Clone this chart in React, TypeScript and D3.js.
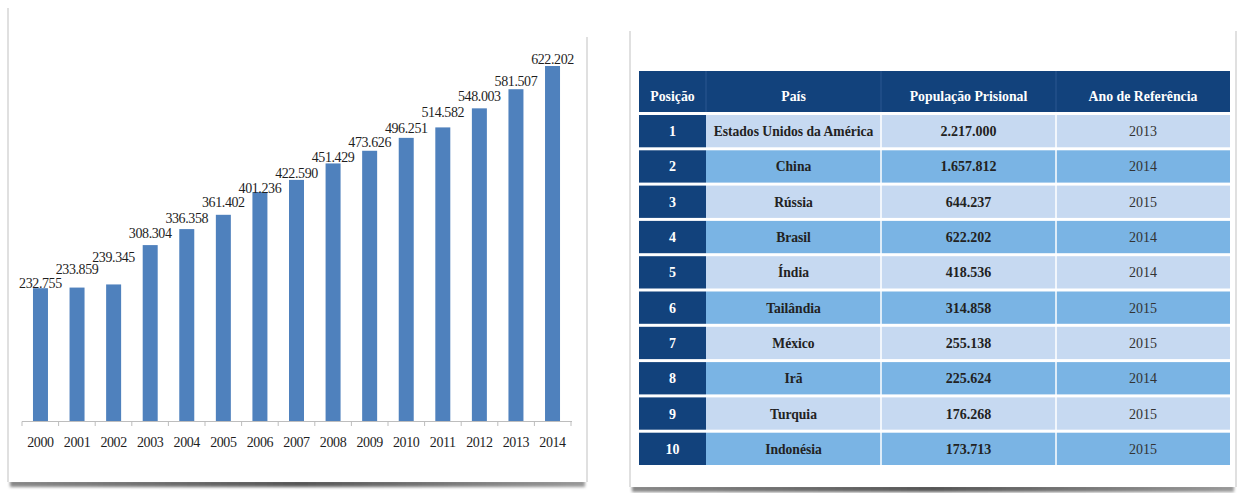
import React from "react";
import * as d3 from "d3";

// ---- Data: left bar chart (population prisional do Brasil) ----
const years = ["2000","2001","2002","2003","2004","2005","2006","2007","2008","2009","2010","2011","2012","2013","2014"];
const prisoners = [232755, 233859, 239345, 308304, 336358, 361402, 401236, 422590, 451429, 473626, 496251, 514582, 548003, 581507, 622202];
// layout only: how far each value label sits above its bar (px), as placed in the source image
const labelLift = [5, 19, 27, 12, 11, 13, 4, 7, 6, 9, 10, 15, 12, 8, 7];

// ---- Data: right table ----
const tableHeaders = ["Posição", "País", "População Prisional", "Ano de Referência"];
const positions = [1, 2, 3, 4, 5, 6, 7, 8, 9, 10];
const countries = ["Estados Unidos da América", "China", "Rússia", "Brasil", "Índia", "Tailândia", "México", "Irã", "Turquia", "Indonésia"];
const populations = [2217000, 1657812, 644237, 622202, 418536, 314858, 255138, 225624, 176268, 173713];
const refYears = [2013, 2014, 2015, 2014, 2014, 2015, 2015, 2014, 2015, 2015];

const ptBR = d3.formatLocale({ decimal: ",", thousands: ".", grouping: [3], currency: ["R$", ""] });
const fmt = ptBR.format(",d");

const FONT = "'Liberation Serif', 'Times New Roman', serif";
const BAR = "#4f81bd";
const NAVY = "#12427c";
const LIGHT = "#c6d9f1";
const MID = "#7ab4e4";

function Panel({ x, y, w, h, topStart }: { x: number; y: number; w: number; h: number; topStart: number }) {
  const id = `sh${x}`;
  return (
    <g>
      <defs>
        <linearGradient id={id} x1="0" x2="1" y1="0" y2="0">
          <stop offset="0" stopColor="#888" />
          <stop offset="0.5" stopColor="#555" />
          <stop offset="1" stopColor="#999" />
        </linearGradient>
        <filter id={id + "b"} x="-5%" y="-100%" width="110%" height="300%">
          <feGaussianBlur stdDeviation="1.6" />
        </filter>
      </defs>
      <rect x={x + 2} y={y + h - 2} width={w - 4} height={7} fill={`url(#${id})`} filter={`url(#${id}b)`} />
      <rect x={x} y={y} width={w} height={h} fill="#fff" />
      <line x1={x} x2={x} y1={y} y2={y + h} stroke="#d6d6d6" strokeWidth={1.5} />
      <line x1={x + w} x2={x + w} y1={topStart} y2={y + h} stroke="#d6d6d6" strokeWidth={1.5} />
    </g>
  );
}

function BarChart() {
  const x = d3.scaleBand<string>().domain(years).range([22, 571]).paddingInner(0.59).paddingOuter(0.3);
  const y = d3.scaleLinear().domain([0, 622202]).range([421, 66]);
  const ticks = d3.range(years.length + 1).map((i) => 22 + (i * (571 - 22)) / years.length);
  return (
    <g>
      {years.map((yr, i) => (
        <rect key={yr} x={x(yr)} y={y(prisoners[i])} width={x.bandwidth()} height={y(0) - y(prisoners[i])} fill={BAR} />
      ))}
      <line x1={22} x2={572} y1={421.5} y2={421.5} stroke="#bdbdbd" strokeWidth={1} />
      {ticks.map((t, i) => (
        <line key={i} x1={t} x2={t} y1={421.5} y2={426} stroke="#bdbdbd" strokeWidth={1} />
      ))}
      {years.map((yr, i) => (
        <text key={"l" + yr} x={(x(yr) as number) + x.bandwidth() / 2} y={y(prisoners[i]) - labelLift[i] + 5}
          textAnchor="middle" fontFamily={FONT} fontSize={14} fill="#1e1e1e" letterSpacing={-0.4}>
          {fmt(prisoners[i])}
        </text>
      ))}
      {years.map((yr) => (
        <text key={"y" + yr} x={(x(yr) as number) + x.bandwidth() / 2} y={447}
          textAnchor="middle" fontFamily={FONT} fontSize={14} fill="#1e1e1e" letterSpacing={-0.4}>
          {yr}
        </text>
      ))}
    </g>
  );
}

function Table() {
  const cols = [639, 706, 881, 1056, 1230];
  const rowY = d3.scaleBand<number>().domain(positions).range([112, 465]).paddingInner(0);
  const headTop = 71, headBottom = 112;
  const step = rowY.step();
  return (
    <g fontFamily={FONT}>
      <rect x={cols[0]} y={headTop} width={cols[4] - cols[0]} height={headBottom - headTop} fill={NAVY} />
      {cols.slice(1, 4).map((c) => (
        <line key={c} x1={c} x2={c} y1={headTop} y2={headBottom} stroke="#2b5690" strokeWidth={1} />
      ))}
      {tableHeaders.map((h, j) => (
        <text key={h} x={(cols[j] + cols[j + 1]) / 2} y={(headTop + headBottom) / 2 + 9} textAnchor="middle"
          fill="#fff" fontWeight="bold" fontSize={13.8}>
          {h}
        </text>
      ))}
      {positions.map((p, i) => {
        const top = (rowY(p) as number) + 3;
        const bot = (rowY(p) as number) + step;
        const h = bot - top;
        const cy = (top + bot) / 2 + 5;
        const fill = i % 2 === 0 ? LIGHT : MID;
        return (
          <g key={p}>
            <rect x={cols[0]} y={top} width={cols[1] - cols[0]} height={h} fill={NAVY} />
            <rect x={cols[1]} y={top} width={cols[2] - cols[1] - 0.75} height={h} fill={fill} />
            <rect x={cols[2] + 0.75} y={top} width={cols[3] - cols[2] - 1.5} height={h} fill={fill} />
            <rect x={cols[3] + 0.75} y={top} width={cols[4] - cols[3] - 0.75} height={h} fill={fill} />
            <text x={(cols[0] + cols[1]) / 2} y={cy} textAnchor="middle" fill="#fff" fontWeight="bold" fontSize={14}>{p}</text>
            <text x={(cols[1] + cols[2]) / 2} y={cy} textAnchor="middle" fill="#222" fontWeight="bold" fontSize={13.6}>{countries[i]}</text>
            <text x={(cols[2] + cols[3]) / 2} y={cy} textAnchor="middle" fill="#222" fontWeight="bold" fontSize={14}>{fmt(populations[i])}</text>
            <text x={(cols[3] + cols[4]) / 2} y={cy} textAnchor="middle" fill="#333" fontSize={14}>{refYears[i]}</text>
          </g>
        );
      })}
    </g>
  );
}

export default function App() {
  return (
    <svg width={1238} height={493} style={{ position: "absolute", left: 0, top: 0, background: "#fff" }}>
      <Panel x={8} y={8} w={579} h={474} topStart={37} />
      <Panel x={630} y={31} w={606} h={456} topStart={31} />
      <BarChart />
      <Table />
    </svg>
  );
}
